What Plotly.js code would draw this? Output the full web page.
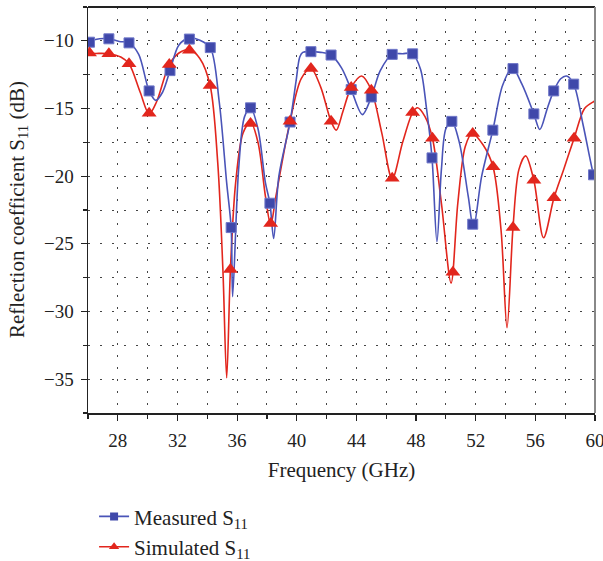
<!DOCTYPE html>
<html>
<head>
<meta charset="utf-8">
<script src="https://cdn.plot.ly/plotly-3.0.1.min.js"></script>
<style>html,body{margin:0;padding:0;background:#fff;}#chart{width:603px;height:561px;}</style>
</head>
<body>
<div id="chart"></div>
<script>
// Measured S11 curve (GHz, dB)
const measuredCurveX = [26.0,26.1,26.5,27.4,28.1,28.75,29.4,30.1,30.55,31.0,31.5,32.1,32.8,33.5,34.2,34.8,35.3,35.6,35.7,36.1,36.5,36.9,37.4,37.9,38.2,38.45,38.8,39.55,39.95,40.2,40.4,40.95,41.6,42.3,43.0,43.65,44.4,45.0,45.6,46.4,47.1,47.77,48.3,48.7,49.07,49.4,49.7,50.0,50.4,50.9,51.5,51.85,52.4,53.15,53.8,54.45,55.1,55.9,56.3,56.8,57.23,57.7,58.1,58.57,59.2,59.9,60.0];
const measuredCurveY = [-10.2,-10.1,-9.9,-9.85,-10.05,-10.15,-11.0,-13.7,-14.4,-13.8,-12.2,-10.3,-9.8,-9.95,-10.5,-14.5,-20.5,-23.8,-28.9,-19.5,-15.6,-14.95,-16.5,-20.5,-22.0,-24.6,-20.0,-16.0,-13.0,-11.2,-10.85,-10.8,-10.85,-11.05,-12.0,-13.6,-15.45,-14.15,-12.2,-11.0,-10.95,-10.96,-12.1,-15.0,-18.65,-24.85,-19.5,-16.5,-15.95,-17.5,-21.5,-23.8,-20.0,-16.6,-13.3,-12.0,-13.2,-15.4,-16.55,-15.0,-13.7,-12.8,-12.6,-13.2,-16.2,-19.9,-20.2];
// Measured S11 marker points
const measuredMarkX = [26.1,27.4,28.75,30.1,31.5,32.8,34.2,35.6,36.9,38.2,39.55,40.95,42.3,43.65,45.0,46.4,47.77,49.07,50.4,51.8,53.15,54.5,55.9,57.23,58.57,59.9];
const measuredMarkY = [-10.1,-9.85,-10.15,-13.7,-12.2,-9.87,-10.5,-23.8,-14.95,-22.0,-16.0,-10.8,-11.05,-13.6,-14.15,-11.0,-10.96,-18.65,-15.95,-23.55,-16.6,-12.05,-15.4,-13.7,-13.2,-19.9];

// Simulated S11 curve
const simulatedCurveX = [26.0,26.1,27.4,28.2,28.75,29.5,30.1,30.6,31.45,32.1,32.8,33.5,34.19,34.7,35.05,35.3,35.55,35.9,36.4,36.9,37.4,37.9,38.25,38.6,39.55,40.3,40.95,41.6,42.3,42.65,43.1,43.65,44.35,45.0,45.7,46.4,47.1,47.77,48.1,48.6,49.1,49.7,50.35,50.8,51.3,51.75,52.5,53.16,53.7,54.1,54.5,54.9,55.35,55.9,56.55,57.25,57.9,58.6,59.3,59.9,60.0];
const simulatedCurveY = [-10.8,-10.9,-10.95,-11.2,-11.7,-13.8,-15.4,-14.5,-11.75,-10.9,-10.65,-11.3,-13.3,-19.0,-27.0,-34.9,-26.9,-20.5,-16.8,-16.0,-17.5,-21.5,-23.6,-21.5,-15.95,-12.8,-12.05,-13.4,-15.95,-16.6,-15.2,-13.45,-12.6,-13.65,-16.8,-20.2,-17.5,-15.3,-14.95,-15.6,-17.2,-22.0,-27.9,-22.0,-17.8,-16.85,-17.7,-19.3,-24.0,-31.2,-23.8,-19.5,-18.5,-20.3,-24.55,-21.6,-19.5,-17.2,-15.0,-14.5,-14.45];
// Simulated S11 marker points
const simulatedMarkX = [26.1,27.4,28.75,30.1,31.45,32.8,34.19,35.55,36.9,38.25,39.55,40.95,42.3,43.65,45.0,46.4,47.77,49.1,50.47,51.8,53.16,54.5,55.9,57.25,58.6];
const simulatedMarkY = [-10.9,-10.95,-11.7,-15.35,-11.75,-10.7,-13.3,-26.9,-16.1,-23.5,-15.95,-12.05,-15.95,-13.45,-13.65,-20.15,-15.3,-17.2,-27.1,-16.85,-19.3,-23.8,-20.3,-21.6,-17.2];

const seriesNames = ['Measured S<sub>11</sub>', 'Simulated S<sub>11</sub>'];
const xTickVals = [28,32,36,40,44,48,52,56,60];
const yTickVals = [-10,-15,-20,-25,-30,-35];

const BLUE = '#3f48aa';
const BLUE_LINE = '#4a54b8';
const RED = '#e2261d';
const FONT = 'Liberation Serif, Times New Roman, serif';

const traces = [
  {x: simulatedCurveX, y: simulatedCurveY, mode: 'lines', line: {color: RED, width: 1.6, shape: 'spline', smoothing: 0.9}, showlegend: false, hoverinfo: 'skip'},
  {x: measuredCurveX, y: measuredCurveY, mode: 'lines', line: {color: BLUE_LINE, width: 1.6, shape: 'spline', smoothing: 0.9}, showlegend: false, hoverinfo: 'skip'},
  {x: measuredMarkX, y: measuredMarkY, mode: 'markers', marker: {symbol: 'square', size: 10, color: BLUE, line: {color: '#6f77c8', width: 1}}, showlegend: false},
  {x: simulatedMarkX, y: simulatedMarkY, mode: 'markers', marker: {symbol: 'triangle-up', size: 13, color: RED, line: {width: 0}}, showlegend: false},
  {x: [null], y: [null], mode: 'lines+markers', name: seriesNames[0], legendgroup: 'm', line: {color: BLUE_LINE, width: 1.6}, marker: {symbol: 'square', size: 8, color: BLUE}},
  {x: [null], y: [null], mode: 'lines+markers', name: seriesNames[1], legendgroup: 's', line: {color: RED, width: 1.6}, marker: {symbol: 'triangle-up', size: 9, color: RED}}
];

const gridDash = '2px,10px';
const layout = {
  width: 603, height: 561,
  margin: {l: 88, r: 8, t: 7, b: 148, autoexpand: false},
  paper_bgcolor: '#fff', plot_bgcolor: '#fff',
  font: {family: FONT, size: 19, color: '#222'},
  xaxis: {
    range: [26, 60], tickvals: xTickVals, ticks: 'outside', ticklen: 6, tickwidth: 1.2, tickcolor: '#222',
    ticklabeloverflow: 'allow', ticklabelstandoff: 4,
    showline: true, linecolor: '#222', linewidth: 1.5,
    showgrid: true, gridcolor: '#444', gridwidth: 1, griddash: gridDash,
    minor: {dtick: 2, tick0: 26, ticks: 'outside', ticklen: 4, tickcolor: '#222', showgrid: true, gridcolor: '#444', gridwidth: 1, griddash: gridDash},
    zeroline: false,
    title: {text: 'Frequency (GHz)', font: {size: 21, family: FONT, color: '#222'}, standoff: 12},
    tickfont: {size: 19, family: FONT, color: '#222'}
  },
  yaxis: {
    range: [-37.5, -7.5], tickvals: yTickVals, ticks: 'outside', ticklen: 6, tickwidth: 1.2, tickcolor: '#222',
    ticklabeloverflow: 'allow', ticklabelstandoff: 3,
    showline: true, linecolor: '#222', linewidth: 1.5,
    showgrid: true, gridcolor: '#444', gridwidth: 1, griddash: gridDash,
    minor: {dtick: 2.5, tick0: -10, ticks: 'outside', ticklen: 4, tickcolor: '#222', showgrid: true, gridcolor: '#444', gridwidth: 1, griddash: gridDash},
    zeroline: false,
    tickfont: {size: 19, family: FONT, color: '#222'}
  },
  annotations: [
    {text: 'Reflection coefficient S<sub>11</sub> (dB)', textangle: -90, xref: 'paper', yref: 'paper',
     x: -0.138, y: 0.5, xanchor: 'center', yanchor: 'middle', showarrow: false,
     font: {size: 21, family: FONT, color: '#222'}}
  ],
  shapes: [
    {type: 'line', xref: 'paper', yref: 'paper', x0: 0, x1: 1, y0: 1, y1: 1, line: {color: '#222', width: 2}},
    {type: 'line', xref: 'paper', yref: 'paper', x0: 1, x1: 1, y0: 0, y1: 1, line: {color: '#888', width: 2}}
  ],
  showlegend: true,
  legend: {x: 0.012, y: -0.205, xanchor: 'left', yanchor: 'top', bgcolor: 'rgba(0,0,0,0)', font: {size: 21, family: FONT, color: '#222'}, traceorder: 'grouped', tracegroupgap: 0}
};

Plotly.newPlot('chart', traces, layout, {displayModeBar: false, staticPlot: true});
</script>
</body>
</html>
